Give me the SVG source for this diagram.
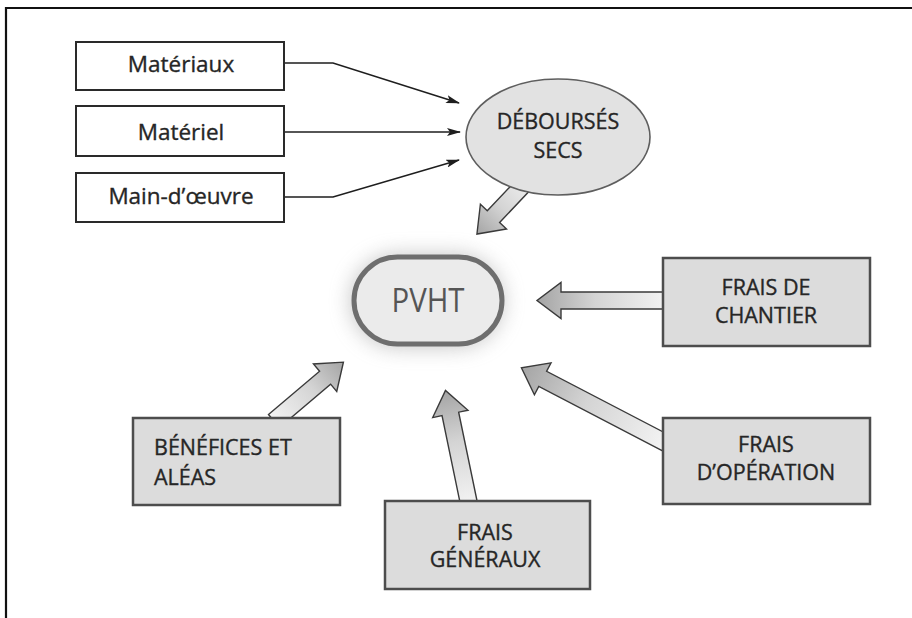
<svg xmlns="http://www.w3.org/2000/svg" width="912" height="618" viewBox="0 0 912 618">
  <style>
    .frame { stroke: #111; stroke-width: 2.2; fill: none; }
    .src { fill: #ffffff; stroke: #2a2a2a; stroke-width: 2; }
    .cost { fill: #dcdcdc; stroke: #4d4d4d; stroke-width: 2.5; }
    .lbl { font-family: "Open Sans", "Noto Sans", "DejaVu Sans", sans-serif; fill: #262626; stroke: #262626; stroke-width: 0.35; }
    .low { font-size: 22.5px; text-anchor: middle; }
    .cap { font-size: 21.5px; text-anchor: middle; }
    .cap.left { text-anchor: start; }
    .thin { stroke: #1e1e1e; stroke-width: 1.6; fill: none; marker-end: url(#tip); }
    .fat { fill: url(#shade); stroke: #3a3a3a; stroke-width: 1.4; stroke-linejoin: miter; }
  </style>
  <defs>
    <marker id="tip" viewBox="0 0 14 8" refX="13" refY="4" markerWidth="14" markerHeight="8" markerUnits="userSpaceOnUse" orient="auto">
      <path d="M0,0 L14,4 L0,8 L3,4 Z" fill="#1e1e1e"/>
    </marker>
    <linearGradient id="shade" x1="0" y1="0" x2="1" y2="0">
      <stop offset="0" stop-color="#f3f3f3"/>
      <stop offset="0.55" stop-color="#d4d4d4"/>
      <stop offset="1" stop-color="#a4a4a4"/>
    </linearGradient>
    <filter id="halo" x="-50%" y="-50%" width="200%" height="200%">
      <feGaussianBlur stdDeviation="11"/>
    </filter>
  </defs>

  <rect width="912" height="618" fill="#ffffff"/>
  <!-- page frame: top and left rules only -->
  <path class="frame" d="M5,8 H912 M6,7 V618"/>

  <!-- connectors -->
  <g id="connectors">
    <path class="thin" d="M284,63 H333 L459,103"/>
    <path class="thin" d="M284,132 H460"/>
    <path class="thin" d="M284,197 H333 L459,160"/>

    <!-- block arrows: drawn along +x, tail at 0, tip at the length -->
    <path class="fat" transform="translate(532,176) rotate(133.5)" d="M0,-8.5 H56 V-18 L80,0 L56,18 V8.5 H0 Z"/>
    <path class="fat" transform="translate(666,300.5) rotate(180)" d="M0,-8.5 H105 V-18 L129,0 L105,18 V8.5 H0 Z"/>
    <path class="fat" transform="translate(666,443) rotate(207.5)" d="M0,-8.5 H139 V-18 L163,0 L139,18 V8.5 H0 Z"/>
    <path class="fat" transform="translate(469,504) rotate(258.3)" d="M0,-8.5 H92 V-18 L116,0 L92,18 V8.5 H0 Z"/>
    <path class="fat" transform="translate(274,421) rotate(-40.3)" d="M0,-8.5 H67 V-18 L91,0 L67,18 V8.5 H0 Z"/>
  </g>

  <g id="materiaux">
    <rect class="src" x="76" y="42" width="208" height="48"/>
    <text class="lbl low" x="181" y="72">Matériaux</text>
  </g>
  <g id="materiel">
    <rect class="src" x="76" y="106" width="208" height="50"/>
    <text class="lbl low" x="181" y="140">Matériel</text>
  </g>
  <g id="main-oeuvre">
    <rect class="src" x="76" y="173" width="208" height="49"/>
    <text class="lbl low" x="181" y="204">Main-d’œuvre</text>
  </g>

  <g id="debourses-secs">
    <ellipse cx="558" cy="137" rx="92" ry="58" fill="#e2e2e2" stroke="#5e5e5e" stroke-width="1.6"/>
    <text class="lbl cap" x="558" y="129">DÉBOURSÉS</text>
    <text class="lbl cap" x="558" y="158">SECS</text>
  </g>

  <g id="pvht">
    <rect x="352" y="256" width="150" height="90" rx="45" fill="#8a8a8a" opacity="0.55" filter="url(#halo)"/>
    <rect x="354" y="257" width="148" height="87" rx="43.5" fill="#ebebeb" stroke="#6e6e6e" stroke-width="5"/>
    <text x="428" y="312" font-family="Open Sans, Noto Sans, sans-serif" font-size="33" text-anchor="middle" fill="#555555" textLength="73" lengthAdjust="spacingAndGlyphs">PVHT</text>
  </g>

  <g id="frais-chantier">
    <rect class="cost" x="663" y="258" width="207" height="88"/>
    <text class="lbl cap" x="766" y="295">FRAIS DE</text>
    <text class="lbl cap" x="766" y="323">CHANTIER</text>
  </g>

  <g id="frais-operation">
    <rect class="cost" x="663" y="418" width="207" height="86"/>
    <text class="lbl cap" x="766" y="452">FRAIS</text>
    <text class="lbl cap" x="766" y="480">D’OPÉRATION</text>
  </g>

  <g id="benefices-aleas">
    <rect class="cost" x="133" y="418" width="207" height="87"/>
    <text class="lbl cap left" x="154" y="455">BÉNÉFICES ET</text>
    <text class="lbl cap left" x="154" y="485">ALÉAS</text>
  </g>

  <g id="frais-generaux">
    <rect class="cost" x="385" y="501" width="205" height="88"/>
    <text class="lbl cap" x="485" y="540">FRAIS</text>
    <text class="lbl cap" x="485" y="567">GÉNÉRAUX</text>
  </g>
</svg>
